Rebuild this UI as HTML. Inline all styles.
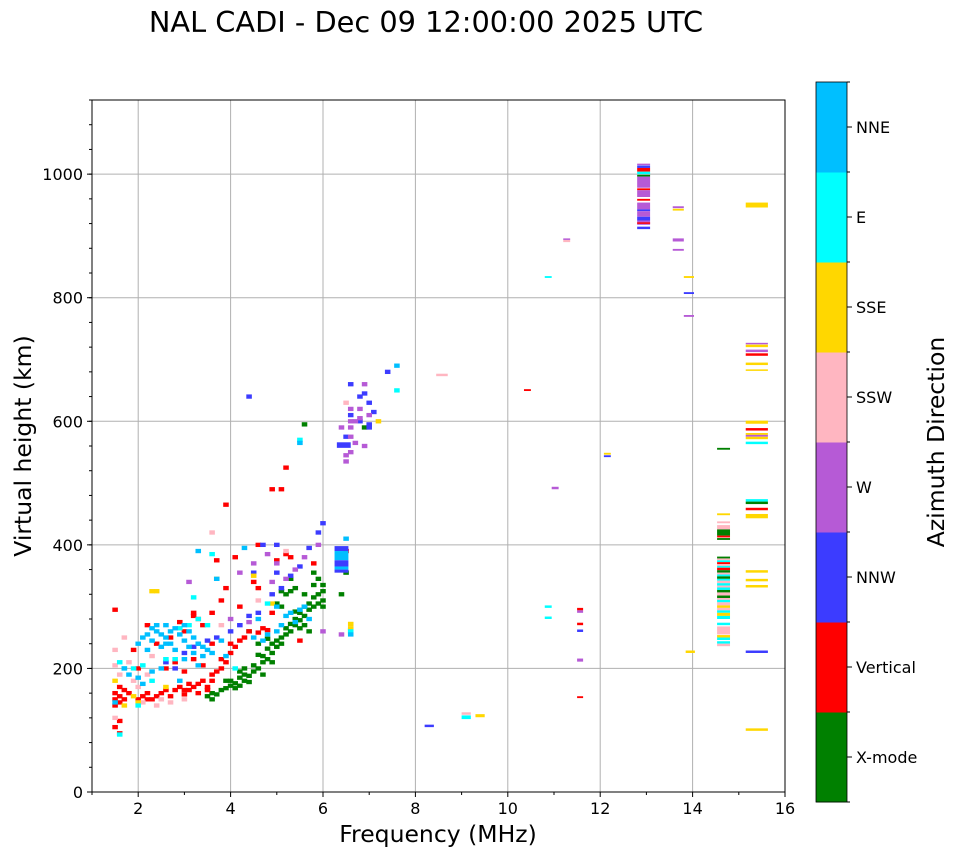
<!DOCTYPE html>
<html><head><meta charset="utf-8"><style>
body{margin:0;background:#fff;}
svg{display:block;font-family:"DejaVu Sans","Liberation Sans",sans-serif;}
</style></head><body>
<svg id="chart" width="958" height="857" viewBox="0 0 958 857" xmlns="http://www.w3.org/2000/svg">
<text x="426" y="32" font-size="28.8" text-anchor="middle">NAL CADI - Dec 09 12:00:00 2025 UTC</text>
<g id="grid"></g>
<g id="marks"></g>
<rect x="92" y="100" width="693" height="692" fill="none" stroke="#000" stroke-width="1"/>
<g id="axes"></g>
<text x="438" y="842" font-size="23.5" text-anchor="middle">Frequency (MHz)</text>
<text transform="translate(31,446) rotate(-90)" font-size="23.5" text-anchor="middle">Virtual height (km)</text>
<g id="cbar"></g>
<text transform="translate(944,442) rotate(-90)" font-size="23.5" text-anchor="middle">Azimuth Direction</text>
</svg>
<script>
const compNames=["X-mode","Vertical","NNW","W","SSW","SSE","E","NNE"];
const compColors=["#008000","#ff0000","#3c3cff","#b65ad6","#ffb6c1","#ffd700","#00ffff","#00bfff"];
const xTicks=[2,4,6,8,10,12,14,16];
const yTicks=[0,200,400,600,800,1000];
// points per component: [freq MHz, height km]
const xmodePts=[[3.5,155],[3.6,160],[3.7,158],[3.8,165],[3.9,168],[4.0,172],[4.0,180],[4.1,176],[4.2,185],[4.3,180],[4.3,190],[4.4,188],[4.5,195],[4.5,205],[4.6,200],[4.7,210],[4.7,220],[4.8,215],[4.8,232],[4.9,225],[4.9,240],[5.0,235],[5.0,245],[5.1,240],[5.1,250],[5.2,255],[5.2,265],[5.3,260],[5.3,272],[5.4,270],[5.4,280],[5.5,278],[5.5,290],[5.6,285],[5.6,300],[5.7,295],[5.7,305],[5.8,300],[5.8,315],[5.9,305],[5.9,320],[6.0,310],[6.0,325],[6.0,335],[5.2,320],[5.3,325],[5.4,330],[5.1,300],[5.0,305],[5.6,320],[5.8,335],[5.9,345],[4.4,260],[4.6,240],[4.9,210],[5.3,345],[4.3,200],[4.6,222],[4.8,248],[5.7,260],[5.5,265],[6.4,320],[6.5,355],[5.6,595],[4.2,195],[4.4,178],[4.7,190],[3.9,180],[4.1,168],[5.4,292],[5.6,270],[6.0,300],[5.1,325],[5.8,355],[6.9,590],[3.6,150],[4.2,172]];
const verticalPts=[[1.5,150],[1.5,160],[1.6,145],[1.6,155],[1.7,150],[1.7,165],[1.5,140],[1.6,170],[1.5,105],[1.6,95],[1.6,115],[1.8,160],[2.0,150],[2.1,155],[2.2,160],[2.3,150],[2.4,155],[2.5,160],[2.6,165],[2.7,155],[2.8,165],[2.9,170],[3.0,165],[3.1,175],[3.2,170],[3.3,175],[3.4,180],[3.5,170],[3.6,180],[3.6,190],[3.7,195],[3.8,200],[3.8,215],[3.9,210],[4.0,225],[4.0,240],[4.1,235],[4.2,245],[4.3,250],[4.4,260],[4.6,258],[4.7,265],[4.8,262],[3.5,165],[3.3,160],[3.0,158],[2.6,200],[2.8,210],[3.0,195],[3.2,215],[3.4,205],[2.4,240],[2.7,250],[3.0,260],[3.3,280],[3.6,290],[3.8,310],[3.9,330],[4.2,300],[4.5,340],[3.9,465],[4.9,490],[5.1,490],[5.2,525],[5.0,375],[5.2,385],[4.6,330],[4.9,290],[5.5,245],[5.3,380],[3.2,290],[3.4,270],[2.2,270],[2.0,200],[1.9,230],[4.6,400],[5.8,370],[6.5,390],[4.1,380],[3.7,375],[1.5,295],[3.2,285],[3.6,240],[2.9,275],[3.1,165],[2.2,150]];
const nnwPts=[[3.0,225],[3.3,240],[3.5,245],[3.7,250],[4.0,260],[4.2,270],[4.4,285],[4.6,290],[4.9,320],[5.1,330],[5.3,350],[5.5,365],[5.7,395],[5.9,420],[6.0,435],[4.7,400],[5.0,400],[2.6,210],[2.8,200],[3.2,235],[4.5,355],[5.0,355],[4.4,640],[6.8,600],[7.0,630],[7.0,590],[7.1,615],[6.9,645],[6.6,660],[7.4,680],[6.8,640],[7.0,595],[6.5,575],[6.6,610]];
const wPts=[[4.2,355],[4.5,370],[4.8,385],[5.0,370],[5.2,345],[5.4,360],[5.6,380],[5.9,400],[6.0,260],[6.6,262],[6.4,255],[4.9,340],[4.4,275],[6.5,535],[6.5,545],[6.6,550],[6.6,575],[6.6,590],[6.7,600],[6.6,620],[6.8,605],[6.9,560],[6.9,660],[7.0,610],[6.6,600],[4.0,280],[3.1,340],[6.7,565],[6.4,590],[6.8,620]];
const sswPts=[[1.5,205],[1.8,210],[1.9,180],[2.0,170],[2.1,145],[2.2,190],[2.5,150],[2.7,145],[3.0,150],[1.6,190],[1.5,230],[2.3,220],[3.6,420],[4.6,310],[5.2,390],[6.5,630],[1.7,250],[2.4,140],[3.8,270],[1.5,120]];
const ssePts=[[2.4,325],[2.3,325],[1.9,155],[1.7,140],[2.6,170],[3.7,345],[4.5,350],[4.9,305],[6.6,272],[6.6,265],[7.2,600],[1.5,180],[2.0,145]];
const ePts=[[1.6,210],[1.7,200],[1.9,200],[2.1,205],[2.3,180],[2.6,215],[2.9,265],[3.1,270],[3.3,280],[3.6,385],[3.2,315],[2.8,215],[4.1,200],[4.8,305],[5.5,570],[6.6,260],[7.6,650],[3.5,270],[1.6,93],[2.0,140]];
const nnePts=[[2.0,240],[2.1,250],[2.2,255],[2.3,245],[2.4,260],[2.5,255],[2.6,250],[2.7,260],[2.8,265],[2.9,255],[3.0,245],[3.1,260],[3.2,250],[3.3,240],[3.4,235],[2.2,230],[2.5,235],[2.8,230],[3.0,215],[3.2,225],[3.4,220],[3.5,230],[3.6,225],[3.8,245],[3.9,220],[2.0,185],[2.1,175],[2.3,195],[1.7,200],[1.8,190],[1.5,145],[4.5,250],[4.7,245],[4.8,255],[5.0,260],[5.1,270],[5.2,285],[5.3,290],[5.4,275],[5.5,295],[5.6,300],[5.7,280],[5.0,300],[4.6,280],[3.0,270],[2.6,270],[2.4,270],[2.7,240],[3.1,235],[4.3,395],[3.3,390],[5.5,565],[6.6,255],[6.5,410],[7.6,690],[3.7,345],[2.5,200],[2.9,180],[3.3,205],[2.3,265],[2.6,240]];
// wide bars: freq start, freq end, height bottom, height top, component index
const barF0=[12.8,12.8,12.8,12.8,12.8,12.8,12.8,12.8,12.8,12.8,12.8,12.8,12.8,12.8,12.8,12.8, 13.57,13.57,13.57,13.57, 13.81,13.81,13.81,13.85,
 15.15,15.15,15.15,15.15,15.15,15.15,15.15,15.15,15.15,15.15,15.15,15.15,15.15,15.15,15.15,15.15,15.15,15.15,15.15,15.15,15.15,15.15,
 14.53,14.53,14.53,14.53,14.53,14.53,14.53,14.53,14.53,14.53,14.53,14.53,14.53,14.53,14.53,14.53,14.53,14.53,14.53,14.53,14.53,14.53,14.53,14.53,14.53,14.53,14.53,14.53,14.53,14.53,14.53,14.53,14.53,14.53,14.53,14.53,14.53,14.53,14.53,14.53,
 11.5,11.5,11.5,11.5,11.5,11.5, 12.08,12.08, 11.2,11.2, 10.8,10.35,10.95,10.8,10.8,8.2,9.0,9.0,9.3,8.45,
 6.3,6.25,6.25,6.25,6.25,6.25];
const barF1=[13.08,13.08,13.08,13.08,13.08,13.08,13.08,13.08,13.08,13.08,13.08,13.08,13.08,13.08,13.08,13.08, 13.81,13.81,13.81,13.81, 14.03,14.03,14.03,14.05,
 15.63,15.63,15.63,15.63,15.63,15.63,15.63,15.63,15.63,15.63,15.63,15.63,15.63,15.63,15.63,15.63,15.63,15.63,15.63,15.63,15.63,15.63,
 14.81,14.81,14.81,14.81,14.81,14.81,14.81,14.81,14.81,14.81,14.81,14.81,14.81,14.81,14.81,14.81,14.81,14.81,14.81,14.81,14.81,14.81,14.81,14.81,14.81,14.81,14.81,14.81,14.81,14.81,14.81,14.81,14.81,14.81,14.81,14.81,14.81,14.81,14.81,14.81,
 11.63,11.63,11.63,11.63,11.63,11.63, 12.23,12.23, 11.35,11.35, 10.95,10.5,11.1,10.95,10.95,8.4,9.2,9.2,9.5,8.7,
 6.6,6.55,6.55,6.55,6.55,6.55];
const barH0=[1015,1010,1004,1000,996,978,974,963,957,943,940,931,925,918,920,911, 945,941,891,876, 832,806,769,225,
 946,725,720,712,706,691,682,596,585,578,575,571,563,470,466,456,443,355,341,331,225,99,
 554,448,435,425,415,412,408,378,375,372,369,366,363,359,355,352,349,345,342,338,334,331,327,323,318,314,311,307,302,298,294,290,285,280,270,255,250,246,240,236,
 294,290,270,259,211,152, 546,542, 890,894, 832,649,490,298,280,105,125,118,121,673,
 557,390,375,365,360,355];
const barH1=[1017,1014,1010,1004,999,996,977,974,960,954,943,940,931,925,922,915, 948,944,896,879, 835,809,772,229,
 954,727,724,716,710,695,684,601,589,581,578,575,567,474,470,460,450,359,345,335,229,103,
 557,451,438,432,425,415,411,381,378,375,372,369,366,363,359,355,352,349,345,342,338,334,331,327,323,318,314,311,307,302,298,294,290,285,274,268,254,250,244,240,
 298,294,274,263,216,155, 549,545, 894,896, 835,652,494,302,284,109,129,124,126,677,
 566,398,390,375,365,360];
const barC=[3,2,1,6,0,3,1,3,1,3,2,3,2,3,1,2, 3,5,3,3, 5,2,3,5,
 5,3,5,3,1,5,5,5,1,5,3,5,6,6,0,1,5,5,5,5,2,5,
 0,5,4,4,0,1,0,0,4,6,1,4,6,1,0,4,6,0,6,4,6,4,6,0,4,0,4,6,4,5,4,6,5,6,6,4,5,6,6,4,
 1,3,1,2,3,1, 5,2, 4,3, 6,1,3,6,6,2,4,6,5,4,
 2,2,7,2,7,2];

const X0=92,X1=785,Y0=792,Y1=100;
const xS=f=>X0+(f-1)/(16-1)*(X1-X0);
const yS=h=>Y0-h/1120*(Y0-Y1);
const NS="http://www.w3.org/2000/svg";
function mk(tag,attrs,parent){const e=document.createElementNS(NS,tag);for(const k in attrs)e.setAttribute(k,attrs[k]);parent.appendChild(e);return e;}

const grid=document.getElementById('grid');
xTicks.forEach(t=>{if(t<16){const l=mk('line',{x1:xS(t),x2:xS(t),y1:Y1,y2:Y0,stroke:'#b0b0b0','stroke-width':1},grid);

}});
yTicks.forEach(t=>{if(t>0){const l=mk('line',{x1:X0,x2:X1,y1:yS(t),y2:yS(t),stroke:'#b0b0b0','stroke-width':1},grid);

}});

const marks=document.getElementById('marks');
const ptSets=[xmodePts,verticalPts,nnwPts,wPts,sswPts,ssePts,ePts,nnePts];
const cw=0.12,ch=7;
ptSets.forEach((pts,ci)=>{pts.forEach(p=>{
 const r=mk('rect',{x:xS(p[0]-cw/2),y:yS(p[1]+ch/2),width:xS(p[0]+cw/2)-xS(p[0]-cw/2),height:yS(p[1]-ch/2)-yS(p[1]+ch/2),fill:compColors[ci]},marks);
 
 
});});
barF0.forEach((f0,i)=>{
 const r=mk('rect',{x:xS(f0),y:yS(barH1[i]),width:xS(barF1[i])-xS(f0),height:Math.max(1.5,yS(barH0[i])-yS(barH1[i])),fill:compColors[barC[i]]},marks);
 
 
});

const axes=document.getElementById('axes');
xTicks.forEach(t=>{mk('line',{x1:xS(t),x2:xS(t),y1:Y0,y2:Y0+5,stroke:'#000'},axes);
 const tx=mk('text',{x:xS(t),y:Y0+22,'font-size':16,'text-anchor':'middle'},axes);tx.textContent=t;
 
 });
for(let f=1;f<16;f+=2){mk('line',{x1:xS(f),x2:xS(f),y1:Y0,y2:Y0+3,stroke:'#000'},axes);}
yTicks.forEach(t=>{mk('line',{x1:X0-5,x2:X0,y1:yS(t),y2:yS(t),stroke:'#000'},axes);
 const tx=mk('text',{x:X0-9,y:yS(t)+6,'font-size':16,'text-anchor':'end'},axes);tx.textContent=t;
 
 });
for(let h=0;h<=1120;h+=40){mk('line',{x1:X0-3,x2:X0,y1:yS(h),y2:yS(h),stroke:'#000'},axes);}

const cb=document.getElementById('cbar');
const cbTop=82,cbBot=802,cbX=816,cbW=31,seg=(cbBot-cbTop)/8;
compNames.forEach((n,i)=>{
 const y=cbBot-(i+1)*seg;
 const r=mk('rect',{x:cbX,y:y,width:cbW,height:seg+0.5,fill:compColors[i]},cb);
 
 
 mk('line',{x1:cbX+cbW,x2:cbX+cbW+5,y1:y+seg/2,y2:y+seg/2,stroke:'#000'},cb);
 const tx=mk('text',{x:cbX+cbW+9,y:y+seg/2+6,'font-size':16},cb);tx.textContent=n;
 
 
});
for(let i=0;i<=8;i++){mk('line',{x1:cbX+cbW,x2:cbX+cbW+3,y1:cbTop+i*seg,y2:cbTop+i*seg,stroke:'#000'},cb);}
mk('rect',{x:cbX,y:cbTop,width:cbW,height:cbBot-cbTop,fill:'none',stroke:'#000','stroke-width':0.8},cb);
</script>
</body></html>
